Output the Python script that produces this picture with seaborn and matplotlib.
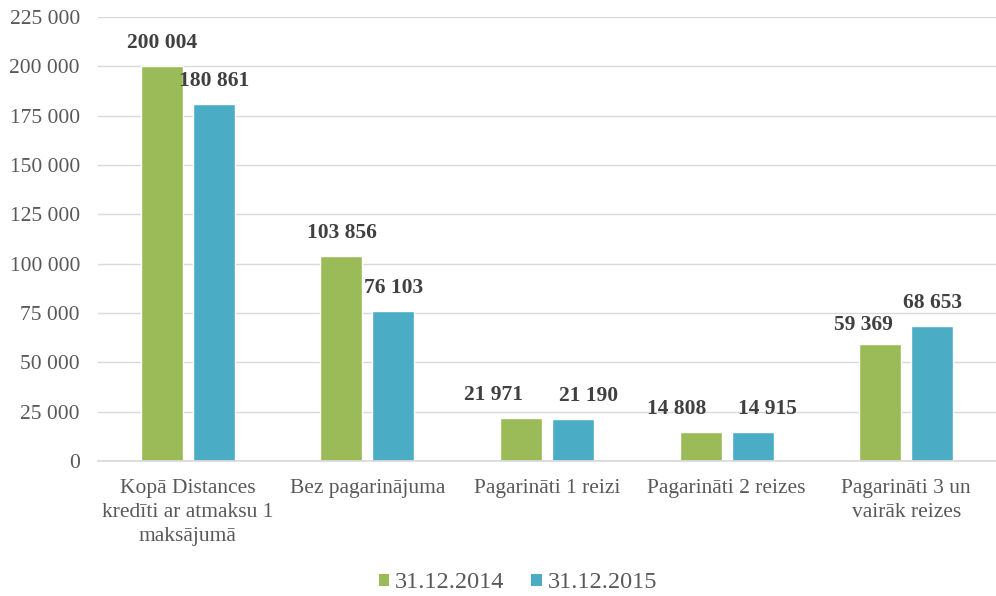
import matplotlib
matplotlib.use("Agg")
import matplotlib.pyplot as plt
import seaborn as sns
import pandas as pd
from matplotlib.ticker import FuncFormatter
from matplotlib.patches import Patch

categories = ["Kopā Distances\nkredīti ar atmaksu 1\nmaksājumā", "Bez pagarinājuma",
              "Pagarināti 1 reizi", "Pagarināti 2 reizes", "Pagarināti 3 un\nvairāk reizes"]
series_names = ["31.12.2014", "31.12.2015"]
values_2014 = [200004, 103856, 21971, 14808, 59369]
values_2015 = [180861, 76103, 21190, 14915, 68653]
colors = ["#9BBB59", "#4BACC6"]

# label nudges (pixels) to avoid overlapping value labels, as in the reference
label_dx = [[0, 0, -28, -24, -17], [0, 0, 16, 15, 0]]
label_dy = [[23, 23, 23, 23, 19], [23, 23, 23, 23, 23]]

df = pd.DataFrame({
    "cat": categories * 2,
    "series": [series_names[0]] * 5 + [series_names[1]] * 5,
    "val": values_2014 + values_2015,
})

sns.set_theme(style="white")
plt.rcParams["font.family"] = ["Liberation Serif", "DejaVu Serif"]

FS = 15.5
PX = 0.72  # points per pixel at dpi 100
fig = plt.figure(figsize=(9.96, 5.96), dpi=100)
ax = fig.add_axes([98/996, 1 - 461/596, 898/996, (461 - 17)/596])

sns.barplot(data=df, x="cat", y="val", hue="series", palette=colors, ax=ax,
            width=0.578, gap=0.19, saturation=1, legend=False)

def fmt(v, _=None):
    return f"{int(v):,}".replace(",", " ")

for si, cont in enumerate(ax.containers):
    for ci, bar in enumerate(cont):
        h = bar.get_height()
        ax.annotate(fmt(h), (bar.get_x() + bar.get_width() / 2, h),
                    xytext=(label_dx[si][ci] * PX, label_dy[si][ci] * PX),
                    textcoords="offset points", ha="center", va="center",
                    fontsize=FS, fontweight="bold", color="#404040")

ax.set_ylim(0, 225000)
ax.set_yticks(range(0, 225001, 25000))
ax.yaxis.set_major_formatter(FuncFormatter(fmt))
ax.set_xlim(-0.5, 4.5)
ax.grid(axis="y", color="#d9d9d9", linewidth=1)
ax.set_axisbelow(True)
for s in ["top", "right", "left"]:
    ax.spines[s].set_visible(False)
ax.spines["bottom"].set_color("#d9d9d9")
ax.set_xlabel("")
ax.set_ylabel("")
ax.tick_params(axis="both", length=0, labelsize=FS, labelcolor="#595959")
ax.tick_params(axis="y", pad=13)
ax.tick_params(axis="x", pad=13)
for t in ax.get_xticklabels():
    t.set_linespacing(1.35)

handles = [Patch(facecolor=c, edgecolor="none") for c in colors]
fig.legend(handles, series_names, loc="center", bbox_to_anchor=(518/996, 1 - 583/596),
           frameon=False, ncol=2, fontsize=17.5, labelcolor="#595959",
           handlelength=0.42, handleheight=0.42, handletextpad=0.25, columnspacing=1.1)

fig.savefig("out.png", dpi=100)
